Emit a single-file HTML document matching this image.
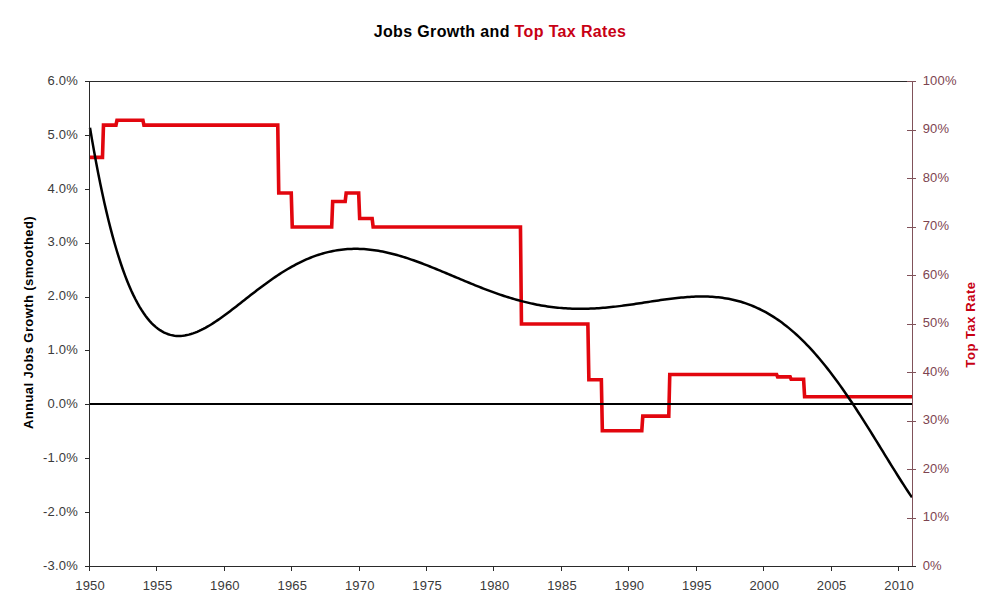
<!DOCTYPE html>
<html><head><meta charset="utf-8"><title>Jobs Growth and Top Tax Rates</title>
<style>
html,body{margin:0;padding:0;background:#fff;width:1000px;height:614px;overflow:hidden}
svg{display:block}
text{font-family:"Liberation Sans",sans-serif}
.lt{font-size:13px;letter-spacing:0.2px;fill:#3a3a3a}
.rt{font-size:13px;letter-spacing:0.2px;fill:#7d4450}
.title{font-size:16px;letter-spacing:0.36px;font-weight:bold;fill:#000}
.yt{font-size:13px;letter-spacing:0.4px;font-weight:bold}
</style></head><body>
<svg width="1000" height="614" viewBox="0 0 1000 614">
<rect width="1000" height="614" fill="#fff"/>
<path d="M89.00,157.35 L102.48,157.35 L103.48,125.15 L115.97,125.15 L116.97,120.30 L142.93,120.30 L143.93,125.15 L277.76,125.15 L278.76,193.05 L291.25,193.05 L292.25,227.00 L331.69,227.00 L332.69,201.54 L345.18,201.54 L346.18,193.05 L358.66,193.05 L359.66,218.51 L372.14,218.51 L373.14,227.00 L520.46,227.00 L521.46,324.00 L587.87,324.00 L588.87,379.77 L601.35,379.77 L602.35,430.70 L641.80,430.70 L642.80,416.15 L668.77,416.15 L669.77,374.44 L776.63,374.44 L777.63,376.87 L790.12,376.87 L791.12,379.29 L803.60,379.29 L804.60,396.75 L912.50,396.75" fill="none" stroke="#e2060e" stroke-width="3.6" stroke-linejoin="miter"/>
<path d="M90.00,127.69 L92.06,139.86 L94.12,151.54 L96.18,162.73 L98.24,173.45 L100.30,183.72 L102.36,193.54 L104.42,202.92 L106.48,211.89 L108.54,220.44 L110.60,228.59 L112.66,236.36 L114.72,243.74 L116.78,250.76 L118.84,257.42 L120.90,263.74 L122.96,269.72 L125.02,275.37 L127.08,280.70 L129.14,285.73 L131.20,290.46 L133.26,294.89 L135.32,299.05 L137.38,302.94 L139.44,306.57 L141.50,309.94 L143.56,313.06 L145.62,315.95 L147.68,318.61 L149.74,321.05 L151.80,323.27 L153.86,325.29 L155.92,327.11 L157.98,328.73 L160.04,330.18 L162.10,331.44 L164.16,332.53 L166.22,333.46 L168.28,334.24 L170.34,334.86 L172.40,335.33 L174.46,335.67 L176.52,335.88 L178.58,335.95 L180.64,335.91 L182.70,335.75 L184.76,335.48 L186.82,335.10 L188.88,334.63 L190.94,334.06 L193.00,333.40 L195.06,332.66 L197.12,331.83 L199.18,330.93 L201.24,329.96 L203.30,328.93 L205.36,327.83 L207.42,326.67 L209.48,325.46 L211.54,324.19 L213.60,322.88 L215.66,321.53 L217.72,320.14 L219.78,318.71 L221.84,317.25 L223.90,315.76 L225.96,314.25 L228.02,312.71 L230.08,311.15 L232.14,309.58 L234.20,307.99 L236.26,306.39 L238.32,304.78 L240.38,303.17 L242.44,301.55 L244.50,299.93 L246.56,298.31 L248.62,296.70 L250.68,295.09 L252.74,293.49 L254.80,291.90 L256.86,290.31 L258.92,288.75 L260.98,287.19 L263.04,285.66 L265.10,284.14 L267.16,282.64 L269.22,281.16 L271.28,279.71 L273.34,278.28 L275.40,276.87 L277.46,275.49 L279.52,274.14 L281.58,272.82 L283.64,271.52 L285.70,270.26 L287.76,269.03 L289.82,267.83 L291.88,266.66 L293.94,265.53 L296.00,264.43 L298.06,263.36 L300.13,262.34 L302.19,261.34 L304.25,260.39 L306.31,259.47 L308.37,258.59 L310.43,257.74 L312.49,256.94 L314.55,256.17 L316.61,255.44 L318.67,254.75 L320.73,254.10 L322.79,253.49 L324.85,252.91 L326.91,252.37 L328.97,251.88 L331.03,251.42 L333.09,251.00 L335.15,250.61 L337.21,250.27 L339.27,249.96 L341.33,249.69 L343.39,249.46 L345.45,249.27 L347.51,249.11 L349.57,248.99 L351.63,248.90 L353.69,248.85 L355.75,248.84 L357.81,248.86 L359.87,248.91 L361.93,249.00 L363.99,249.12 L366.05,249.27 L368.11,249.46 L370.17,249.67 L372.23,249.92 L374.29,250.20 L376.35,250.50 L378.41,250.84 L380.47,251.20 L382.53,251.60 L384.59,252.01 L386.65,252.46 L388.71,252.93 L390.77,253.42 L392.83,253.94 L394.89,254.48 L396.95,255.05 L399.01,255.63 L401.07,256.24 L403.13,256.86 L405.19,257.51 L407.25,258.17 L409.31,258.86 L411.37,259.56 L413.43,260.27 L415.49,261.00 L417.55,261.75 L419.61,262.51 L421.67,263.28 L423.73,264.06 L425.79,264.86 L427.85,265.66 L429.91,266.48 L431.97,267.30 L434.03,268.13 L436.09,268.97 L438.15,269.82 L440.21,270.67 L442.27,271.53 L444.33,272.39 L446.39,273.25 L448.45,274.12 L450.51,274.99 L452.57,275.86 L454.63,276.73 L456.69,277.60 L458.75,278.47 L460.81,279.33 L462.87,280.20 L464.93,281.06 L466.99,281.91 L469.05,282.77 L471.11,283.61 L473.17,284.45 L475.23,285.29 L477.29,286.12 L479.35,286.94 L481.41,287.75 L483.47,288.55 L485.53,289.34 L487.59,290.12 L489.65,290.90 L491.71,291.66 L493.77,292.40 L495.83,293.14 L497.89,293.86 L499.95,294.57 L502.01,295.27 L504.07,295.95 L506.13,296.62 L508.19,297.27 L510.25,297.91 L512.31,298.53 L514.37,299.14 L516.43,299.73 L518.49,300.30 L520.55,300.85 L522.61,301.39 L524.67,301.91 L526.73,302.41 L528.79,302.90 L530.85,303.36 L532.91,303.81 L534.97,304.24 L537.03,304.65 L539.09,305.04 L541.15,305.41 L543.21,305.76 L545.27,306.10 L547.33,306.41 L549.39,306.71 L551.45,306.98 L553.51,307.24 L555.57,307.47 L557.63,307.69 L559.69,307.88 L561.75,308.06 L563.81,308.22 L565.87,308.36 L567.93,308.48 L569.99,308.58 L572.05,308.67 L574.11,308.73 L576.17,308.78 L578.23,308.81 L580.29,308.82 L582.35,308.81 L584.41,308.79 L586.47,308.75 L588.53,308.69 L590.59,308.62 L592.65,308.53 L594.71,308.43 L596.77,308.31 L598.83,308.17 L600.89,308.02 L602.95,307.86 L605.01,307.69 L607.07,307.50 L609.13,307.30 L611.19,307.09 L613.25,306.86 L615.31,306.63 L617.37,306.38 L619.43,306.13 L621.49,305.87 L623.55,305.60 L625.61,305.32 L627.67,305.03 L629.73,304.74 L631.79,304.44 L633.85,304.14 L635.91,303.83 L637.97,303.52 L640.04,303.21 L642.10,302.90 L644.16,302.58 L646.22,302.26 L648.28,301.94 L650.34,301.63 L652.40,301.31 L654.46,301.00 L656.52,300.69 L658.58,300.39 L660.64,300.09 L662.70,299.80 L664.76,299.51 L666.82,299.23 L668.88,298.96 L670.94,298.70 L673.00,298.45 L675.06,298.21 L677.12,297.98 L679.18,297.77 L681.24,297.56 L683.30,297.38 L685.36,297.21 L687.42,297.05 L689.48,296.92 L691.54,296.80 L693.60,296.70 L695.66,296.62 L697.72,296.56 L699.78,296.53 L701.84,296.51 L703.90,296.53 L705.96,296.56 L708.02,296.62 L710.08,296.71 L712.14,296.83 L714.20,296.97 L716.26,297.14 L718.32,297.35 L720.38,297.58 L722.44,297.85 L724.50,298.15 L726.56,298.48 L728.62,298.85 L730.68,299.25 L732.74,299.69 L734.80,300.16 L736.86,300.67 L738.92,301.22 L740.98,301.81 L743.04,302.44 L745.10,303.11 L747.16,303.83 L749.22,304.58 L751.28,305.38 L753.34,306.22 L755.40,307.10 L757.46,308.03 L759.52,309.00 L761.58,310.02 L763.64,311.09 L765.70,312.20 L767.76,313.36 L769.82,314.56 L771.88,315.82 L773.94,317.12 L776.00,318.48 L778.06,319.88 L780.12,321.33 L782.18,322.83 L784.24,324.39 L786.30,325.99 L788.36,327.64 L790.42,329.35 L792.48,331.10 L794.54,332.91 L796.60,334.76 L798.66,336.67 L800.72,338.63 L802.78,340.64 L804.84,342.70 L806.90,344.81 L808.96,346.97 L811.02,349.18 L813.08,351.45 L815.14,353.76 L817.20,356.11 L819.26,358.52 L821.32,360.98 L823.38,363.48 L825.44,366.03 L827.50,368.63 L829.56,371.27 L831.62,373.96 L833.68,376.69 L835.74,379.46 L837.80,382.27 L839.86,385.13 L841.92,388.02 L843.98,390.96 L846.04,393.93 L848.10,396.93 L850.16,399.98 L852.22,403.05 L854.28,406.16 L856.34,409.29 L858.40,412.46 L860.46,415.65 L862.52,418.87 L864.58,422.11 L866.64,425.37 L868.70,428.65 L870.76,431.95 L872.82,435.26 L874.88,438.58 L876.94,441.92 L879.00,445.26 L881.06,448.61 L883.12,451.96 L885.18,455.31 L887.24,458.65 L889.30,461.99 L891.36,465.33 L893.42,468.64 L895.48,471.95 L897.54,475.23 L899.60,478.50 L901.66,481.73 L903.72,484.94 L905.78,488.12 L907.84,491.26 L909.90,494.35 L911.96,497.41" fill="none" stroke="#000" stroke-width="2.5"/>
<rect x="89" y="403" width="823" height="2" fill="#000"/>
<line x1="89" y1="81.5" x2="912.5" y2="81.5" stroke="#2a2a2a" stroke-width="1"/>
<line x1="89.5" y1="81" x2="89.5" y2="571" stroke="#2a2a2a" stroke-width="1"/>
<line x1="912.5" y1="81" x2="912.5" y2="566" stroke="#80525a" stroke-width="1"/>
<line x1="85" y1="81.50" x2="89" y2="81.50" stroke="#2a2a2a" stroke-width="1"/><line x1="85" y1="135.50" x2="89" y2="135.50" stroke="#2a2a2a" stroke-width="1"/><line x1="85" y1="189.50" x2="89" y2="189.50" stroke="#2a2a2a" stroke-width="1"/><line x1="85" y1="243.50" x2="89" y2="243.50" stroke="#2a2a2a" stroke-width="1"/><line x1="85" y1="297.50" x2="89" y2="297.50" stroke="#2a2a2a" stroke-width="1"/><line x1="85" y1="350.50" x2="89" y2="350.50" stroke="#2a2a2a" stroke-width="1"/><line x1="85" y1="404.50" x2="89" y2="404.50" stroke="#2a2a2a" stroke-width="1"/><line x1="85" y1="458.50" x2="89" y2="458.50" stroke="#2a2a2a" stroke-width="1"/><line x1="85" y1="512.50" x2="89" y2="512.50" stroke="#2a2a2a" stroke-width="1"/><line x1="85" y1="566.50" x2="89" y2="566.50" stroke="#2a2a2a" stroke-width="1"/><line x1="907" y1="81.50" x2="916" y2="81.50" stroke="#80525a" stroke-width="1"/><line x1="907" y1="130.50" x2="916" y2="130.50" stroke="#80525a" stroke-width="1"/><line x1="907" y1="178.50" x2="916" y2="178.50" stroke="#80525a" stroke-width="1"/><line x1="907" y1="227.50" x2="916" y2="227.50" stroke="#80525a" stroke-width="1"/><line x1="907" y1="275.50" x2="916" y2="275.50" stroke="#80525a" stroke-width="1"/><line x1="907" y1="324.50" x2="916" y2="324.50" stroke="#80525a" stroke-width="1"/><line x1="907" y1="372.50" x2="916" y2="372.50" stroke="#80525a" stroke-width="1"/><line x1="907" y1="421.50" x2="916" y2="421.50" stroke="#80525a" stroke-width="1"/><line x1="907" y1="469.50" x2="916" y2="469.50" stroke="#80525a" stroke-width="1"/><line x1="907" y1="518.50" x2="916" y2="518.50" stroke="#80525a" stroke-width="1"/><line x1="907" y1="566.50" x2="916" y2="566.50" stroke="#80525a" stroke-width="1"/><line x1="89.50" y1="566" x2="89.50" y2="571" stroke="#2a2a2a" stroke-width="1"/><line x1="156.50" y1="566" x2="156.50" y2="571" stroke="#2a2a2a" stroke-width="1"/><line x1="224.50" y1="566" x2="224.50" y2="571" stroke="#2a2a2a" stroke-width="1"/><line x1="291.50" y1="566" x2="291.50" y2="571" stroke="#2a2a2a" stroke-width="1"/><line x1="359.50" y1="566" x2="359.50" y2="571" stroke="#2a2a2a" stroke-width="1"/><line x1="426.50" y1="566" x2="426.50" y2="571" stroke="#2a2a2a" stroke-width="1"/><line x1="493.50" y1="566" x2="493.50" y2="571" stroke="#2a2a2a" stroke-width="1"/><line x1="561.50" y1="566" x2="561.50" y2="571" stroke="#2a2a2a" stroke-width="1"/><line x1="628.50" y1="566" x2="628.50" y2="571" stroke="#2a2a2a" stroke-width="1"/><line x1="696.50" y1="566" x2="696.50" y2="571" stroke="#2a2a2a" stroke-width="1"/><line x1="763.50" y1="566" x2="763.50" y2="571" stroke="#2a2a2a" stroke-width="1"/><line x1="831.50" y1="566" x2="831.50" y2="571" stroke="#2a2a2a" stroke-width="1"/><line x1="898.50" y1="566" x2="898.50" y2="571" stroke="#2a2a2a" stroke-width="1"/>
<line x1="85" y1="566.5" x2="916" y2="566.5" stroke="#2a2a2a" stroke-width="1"/>
<text x="78" y="84.80" text-anchor="end" class="lt">6.0%</text><text x="78" y="138.69" text-anchor="end" class="lt">5.0%</text><text x="78" y="192.58" text-anchor="end" class="lt">4.0%</text><text x="78" y="246.47" text-anchor="end" class="lt">3.0%</text><text x="78" y="300.36" text-anchor="end" class="lt">2.0%</text><text x="78" y="354.24" text-anchor="end" class="lt">1.0%</text><text x="78" y="408.13" text-anchor="end" class="lt">0.0%</text><text x="78" y="462.02" text-anchor="end" class="lt">-1.0%</text><text x="78" y="515.91" text-anchor="end" class="lt">-2.0%</text><text x="78" y="569.80" text-anchor="end" class="lt">-3.0%</text><text x="922.7" y="84.70" class="rt">100%</text><text x="922.7" y="133.20" class="rt">90%</text><text x="922.7" y="181.70" class="rt">80%</text><text x="922.7" y="230.20" class="rt">70%</text><text x="922.7" y="278.70" class="rt">60%</text><text x="922.7" y="327.20" class="rt">50%</text><text x="922.7" y="375.70" class="rt">40%</text><text x="922.7" y="424.20" class="rt">30%</text><text x="922.7" y="472.70" class="rt">20%</text><text x="922.7" y="521.20" class="rt">10%</text><text x="922.7" y="569.70" class="rt">0%</text><text x="90.10" y="589.6" text-anchor="middle" class="lt">1950</text><text x="157.52" y="589.6" text-anchor="middle" class="lt">1955</text><text x="224.93" y="589.6" text-anchor="middle" class="lt">1960</text><text x="292.35" y="589.6" text-anchor="middle" class="lt">1965</text><text x="359.76" y="589.6" text-anchor="middle" class="lt">1970</text><text x="427.18" y="589.6" text-anchor="middle" class="lt">1975</text><text x="494.59" y="589.6" text-anchor="middle" class="lt">1980</text><text x="562.00" y="589.6" text-anchor="middle" class="lt">1985</text><text x="629.42" y="589.6" text-anchor="middle" class="lt">1990</text><text x="696.84" y="589.6" text-anchor="middle" class="lt">1995</text><text x="764.25" y="589.6" text-anchor="middle" class="lt">2000</text><text x="831.67" y="589.6" text-anchor="middle" class="lt">2005</text><text x="899.08" y="589.6" text-anchor="middle" class="lt">2010</text>
<text x="500" y="37" text-anchor="middle" class="title">Jobs Growth and <tspan fill="#c80014">Top Tax Rates</tspan></text>
<text transform="translate(33,322.5) rotate(-90)" text-anchor="middle" class="yt">Annual Jobs Growth (smoothed)</text>
<text transform="translate(975,324.5) rotate(-90)" text-anchor="middle" class="yt" fill="#c80014" style="letter-spacing:0.55px">Top Tax Rate</text>
</svg>
</body></html>
